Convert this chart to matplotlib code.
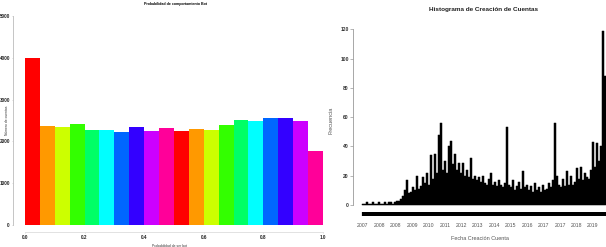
import numpy as np
import matplotlib
matplotlib.use("Agg")
import matplotlib.pyplot as plt

plt.rcParams['font.family'] = ['Liberation Sans', 'DejaVu Sans']

# ---------------- data ----------------
# Left: bot probability histogram (20 bins of width 0.05)
bot_counts = [4000, 2370, 2355, 2420, 2265, 2265, 2225, 2345, 2240, 2320,
              2250, 2290, 2270, 2390, 2505, 2480, 2555, 2555, 2490, 1760]
bot_colors = ["#FF0000", "#FF9900", "#CCFF00", "#33FF00", "#00FF66",
              "#00FFFF", "#0066FF", "#3300FF", "#CC00FF", "#FF0099"]
bot_xticks = [0.0, 0.2, 0.4, 0.6, 0.8, 1.0]
bot_yticks = [0, 1000, 2000, 3000, 4000, 5000]

# Right: account creation histogram (approximate envelope, 2007 -> 2019)
creation_counts = [
    1, 1, 2, 1, 1, 2, 1, 1, 2, 1, 1, 2, 1, 2, 2, 1,
    2, 3, 3, 4,
    6, 10, 17, 8,
    9, 12, 10, 20, 11,
    13, 19, 15, 22, 14,
    34, 18, 35, 22, 48,
    56, 24, 30, 22, 40,
    44, 28, 35, 24, 29,
    22, 29, 20, 24, 19,
    32, 18, 20, 17, 19,
    16, 20, 15, 14, 18,
    22, 14, 16, 13, 17,
    14, 12, 15, 53, 14,
    12, 17, 10, 13, 16,
    11, 23, 12, 14, 10,
    13, 9, 15, 10, 12,
    9, 14, 10, 11, 15,
    12, 17, 56, 20, 14,
    12, 18, 13, 23, 14,
    20, 14, 16, 25, 18,
    26, 17, 22, 19, 18,
    24, 43, 26, 42, 30,
    40, 119, 88]
creation_year_labels = ["2007", "2008", "2008", "2009", "2010", "2011", "2012",
                        "2013", "2014", "2015", "2016", "2017", "2017", "2018", "2019"]
creation_yticks = [0, 20, 40, 60, 80, 100, 120]

# ---------------- figure ----------------
W, H = 606, 247
fig = plt.figure(figsize=(W / 100, H / 100), dpi=100)

# ---- left panel ----
axL = fig.add_axes([13 / W, 0.0607, (326 - 13) / W, 0.883])
n = len(bot_counts)
edges = np.linspace(0, 1, n + 1)
colors = [bot_colors[i % len(bot_colors)] for i in range(n)]
axL.bar(edges[:-1], bot_counts, width=np.diff(edges), align='edge',
        color=colors, linewidth=0)
axL.set_xlim(-0.04, 1.01)
axL.set_ylim(-170, 5050)
for s in ['top', 'right']:
    axL.spines[s].set_visible(False)
axL.spines['left'].set_bounds(0, 5000)
axL.spines['bottom'].set_bounds(0, 1)
axL.spines['left'].set_color('#bbbbbb')
axL.spines['bottom'].set_color('#dddddd')
axL.spines['left'].set_linewidth(0.6)
axL.spines['bottom'].set_linewidth(0.6)
axL.set_yticks(bot_yticks)
axL.set_yticklabels([str(v) for v in bot_yticks], fontsize=3.3, fontweight='bold')
axL.set_xticks(bot_xticks)
axL.set_xticklabels(["%.1f" % v for v in bot_xticks], fontsize=3.3, fontweight='bold')
axL.tick_params(axis='both', length=1.0, width=0.4, pad=1.2, colors='#bbbbbb',
                labelcolor='#222222')
axL.set_xlabel("Probabilidad de ser bot", fontsize=2.4, labelpad=2.5, color='#333333')
fig.text(7 / W, 1 - 120 / H, "Número de cuentas", rotation=90,
         ha='center', va='center', fontsize=2.4, color='#333333')
fig.text(176 / W, 1 - 3.5 / H, "Probabilidad de comportamiento Bot",
         ha='center', va='center', fontsize=2.6, fontweight='bold')

# ---- right panel ----
axR = fig.add_axes([353 / W, 0.1107, (W - 353) / W, 0.8006])
idx = np.arange(len(creation_counts))
axR.bar(idx, creation_counts, width=1.0, color='black', edgecolor='black',
        linewidth=0.35)
axR.vlines(idx, -7.6, -4.6, color='black', linewidth=1.6)
axR.set_xlim(-5, len(creation_counts) - 0.5)
axR.set_ylim(-10, 125)
for s in ['top', 'right', 'bottom']:
    axR.spines[s].set_visible(False)
axR.spines['left'].set_bounds(0, 120)
axR.spines['left'].set_color('#999999')
axR.spines['left'].set_linewidth(0.6)
axR.set_yticks(creation_yticks)
axR.set_yticklabels([str(v) for v in creation_yticks], fontsize=3.6, fontweight='bold',
                    color='#333333')
axR.tick_params(axis='y', length=2.0, width=0.5, pad=1.0, colors='#999999',
                labelcolor='#333333')
tick_pos = np.linspace(0, 115, len(creation_year_labels))
axR.set_xticks(tick_pos)
axR.set_xticklabels(creation_year_labels, fontsize=3.7, color='#555555')
axR.tick_params(axis='x', length=0, pad=2.5)
axR.set_xlabel("Fecha Creación Cuenta", fontsize=4.0, color='#555555', labelpad=6)
axR.set_ylabel("Frecuencia", fontsize=4.0, color='#555555', labelpad=5)
fig.text(484 / W, 1 - 9.5 / H, "Histograma de Creación de Cuentas",
         ha='center', va='center', fontsize=4.6, fontweight='bold', color='#222222')

fig.savefig("out.png", dpi=100)
